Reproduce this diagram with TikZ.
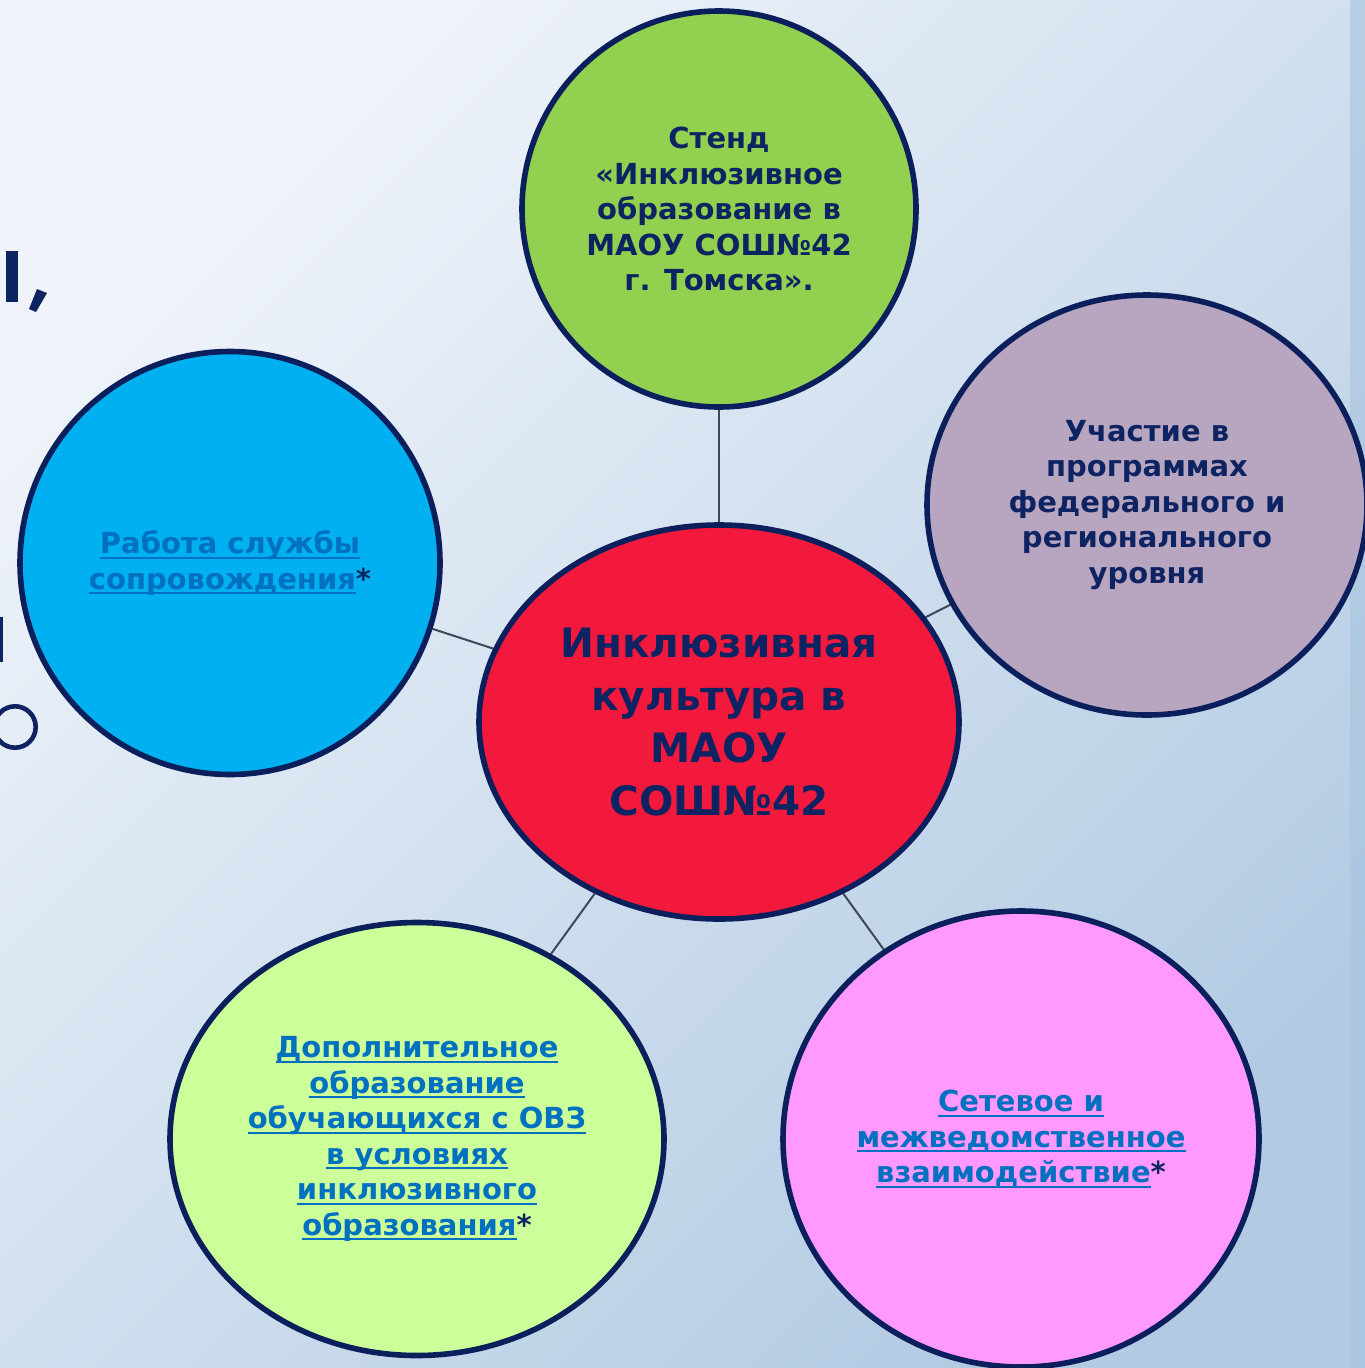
\documentclass[tikz,border=0pt]{standalone}
\usepackage{fontspec}
\setmainfont{DejaVu Sans}
\usetikzlibrary{shapes.geometric}
\definecolor{navy}{HTML}{0E2361}
\definecolor{edge}{HTML}{0B1F5C}
\definecolor{linkblue}{HTML}{0070C0}
\definecolor{conn}{HTML}{3E4859}
\definecolor{cgreen}{HTML}{92D050}
\definecolor{cpurple}{HTML}{B8A6C0}
\definecolor{cblue}{HTML}{00B0F0}
\definecolor{cred}{HTML}{F3193D}
\definecolor{clime}{HTML}{CCFF99}
\definecolor{cpink}{HTML}{FF99FF}
\definecolor{bgA}{HTML}{F0F4FA}
\definecolor{bgM}{HTML}{DDE7F2}
\definecolor{bgB}{HTML}{B2CBE3}
\definecolor{strip}{HTML}{A7C4DF}
\newsavebox\ulbox
\newcommand\myul[1]{\sbox\ulbox{\color{linkblue}#1}\rlap{\color{linkblue}\rule[-5pt]{\wd\ulbox}{2.2pt}}\usebox\ulbox}
\newcommand\myast{{\color{navy}*}}
\pgfdeclarelayer{back}
\pgfdeclarelayer{lines}
\pgfsetlayers{back,lines,main}
\tikzset{
  bub/.style={ellipse, draw=edge, line width=5.6pt, inner sep=0pt},
  txt/.style={align=center, text=navy, font=\bfseries\fontsize{29}{35.5}\selectfont, inner sep=0pt},
  bigtxt/.style={align=center, text=navy, font=\bfseries\fontsize{40.5}{52.5}\selectfont, inner sep=0pt},
  conline/.style={draw=conn, line width=2pt},
  frag/.style={fill=navy, draw=none}
}
\begin{document}
\begin{tikzpicture}[x=1pt,y=-1pt]
\useasboundingbox (0,0) rectangle (1365,1368);
\begin{pgfonlayer}{back}
\shade[shading=axis, top color=bgA, middle color=bgM, bottom color=bgB, shading angle=45] (0,0) rectangle (1365,1368);
\fill[strip, opacity=0.6] (1350,0) rectangle (1365,1368);
\fill[frag] (6,251) rectangle (18,302);
\fill[frag] (37,289) -- (47,293) -- (36,312) -- (29,309) -- cycle;
\fill[frag] (-10,617) rectangle (3,662);
\draw[navy, line width=4.6pt] (15,727) circle[radius=20.7];
\end{pgfonlayer}

\node[bub, fill=cgreen, minimum width=394, minimum height=396] (top) at (719,209) {};
\node[bub, fill=cpurple, minimum width=440, minimum height=420] (right) at (1147,505) {};
\node[bub, fill=cblue, minimum width=420, minimum height=423] (left) at (230,563) {};
\node[bub, fill=cred, minimum width=480, minimum height=394] (center) at (719,722) {};
\node[bub, fill=clime, minimum width=494, minimum height=433] (bl) at (417,1139) {};
\node[bub, fill=cpink, minimum width=476, minimum height=456] (br) at (1021,1139) {};

\begin{pgfonlayer}{lines}
\draw[conline] (top) -- (center);
\draw[conline] (left) -- (center);
\draw[conline] (right) -- (center);
\draw[conline] (bl) -- (center);
\draw[conline] (br) -- (center);
\end{pgfonlayer}

\node[txt] (ttop) at (top) {Стенд\\«Инклюзивное\\образование в\\МАОУ СОШ№42\\г. Томска».};
\node[txt] (tright) at (right) {Участие в\\программах\\федерального и\\регионального\\уровня};
\node[txt] (tleft) at (left) {\myul{Работа службы}\\\myul{сопровождения}\myast};
\node[bigtxt] (tcenter) at (center) {Инклюзивная\\культура в\\МАОУ\\СОШ№42};
\node[txt] (tbl) at (bl) {\myul{Дополнительное}\\\myul{образование}\\\myul{обучающихся с ОВЗ}\\\myul{в условиях}\\\myul{инклюзивного}\\\myul{образования}\myast};
\node[txt] (tbr) at (br) {\myul{Сетевое и}\\\myul{межведомственное}\\\myul{взаимодействие}\myast};
\end{tikzpicture}
\end{document}
